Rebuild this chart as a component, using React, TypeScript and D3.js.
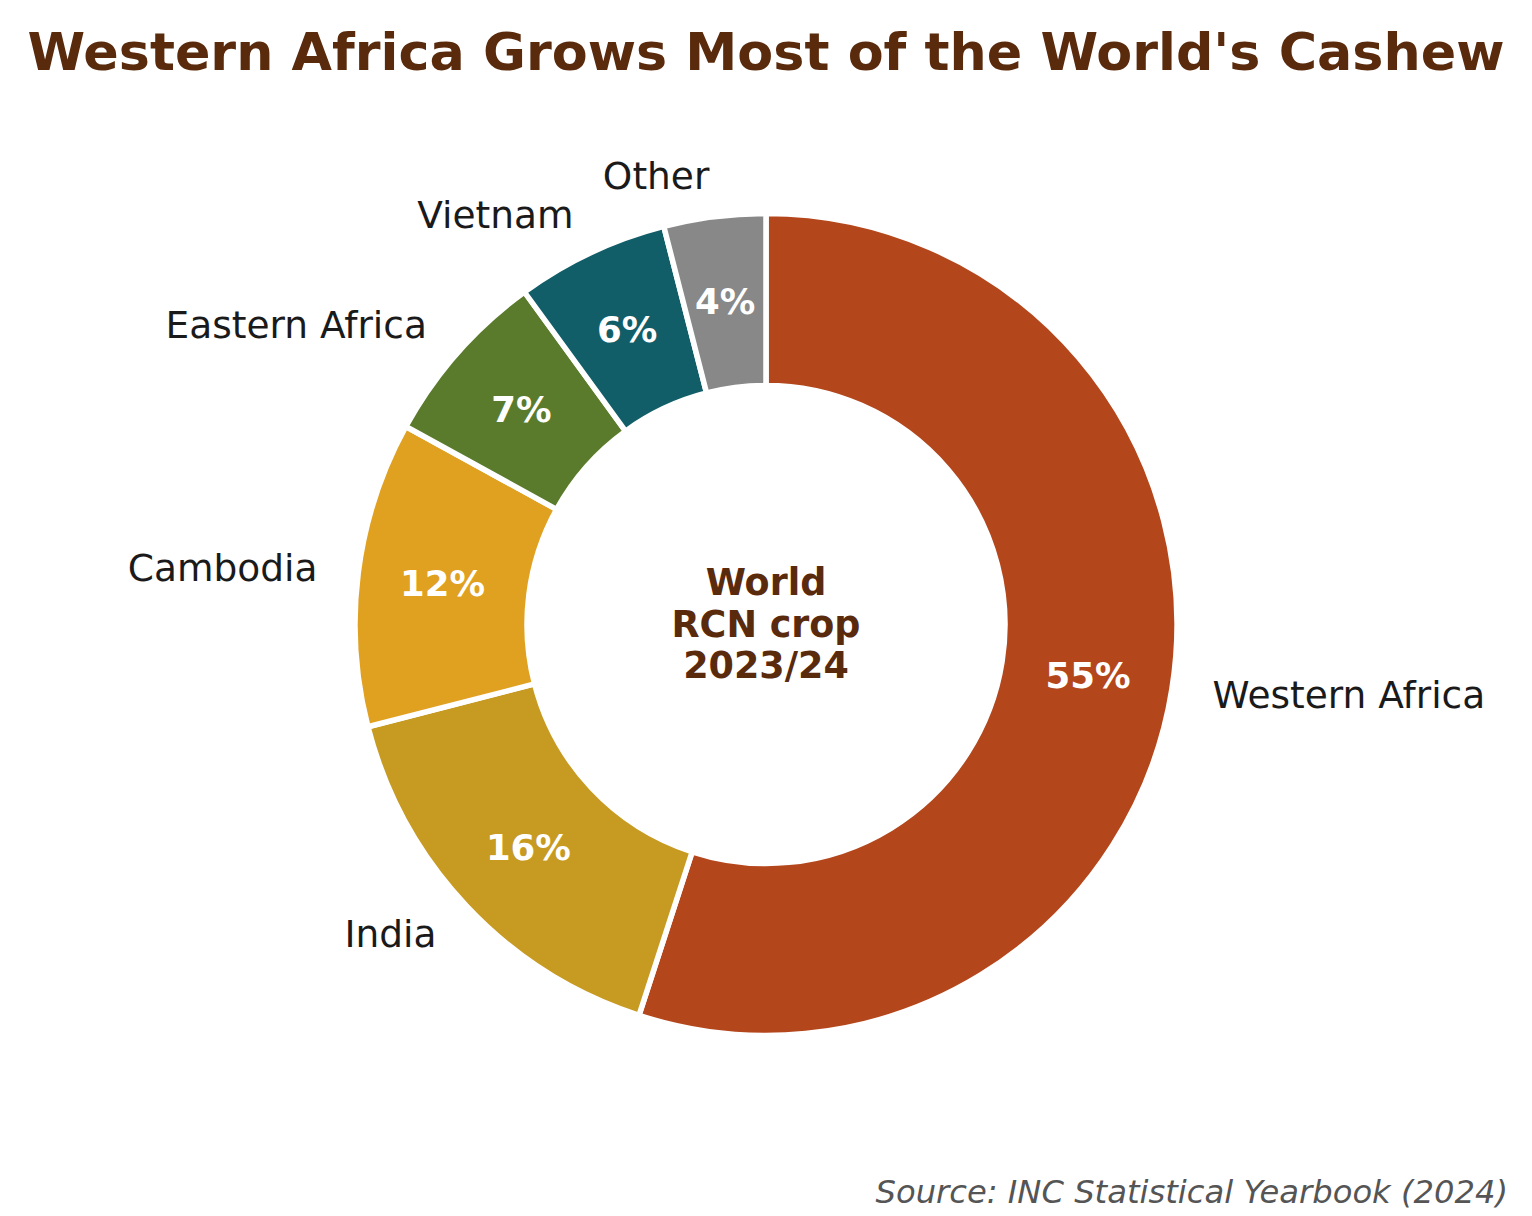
import React from "react";
import * as d3 from "d3";

const categories = ["Western Africa", "India", "Cambodia", "Eastern Africa", "Vietnam", "Other"];
const shares = [55, 16, 12, 7, 6, 4];
const colors = ["#B4461C", "#C79A22", "#E0A020", "#5A7B2B", "#115E69", "#888888"];
const centerLines = ["World", "RCN crop", "2023/24"];
const titleText = "Western Africa Grows Most of the World's Cashew";
const sourceText = "Source: INC Statistical Yearbook (2024)";

const W = 1532;
const H = 1216;
const cx = 766;
const cy = 624.5;
const R = 411;
const R0 = 239;
const font = "DejaVu Sans, sans-serif";

export default function App() {
  const data = categories.map((c, i) => ({ c, v: shares[i], col: colors[i] }));
  const pie = d3
    .pie<any>()
    .sort(null)
    .value((d: any) => d.v)
    .startAngle(0)
    .endAngle(2 * Math.PI);
  const arcs = pie(data);
  const arc = d3.arc<any>().innerRadius(R0).outerRadius(R);
  const total = d3.sum(shares);

  return (
    <svg width={W} height={H} style={{ display: "block", position: "absolute", left: 0, top: 0 }}>
      <rect width={W} height={H} fill="#ffffff" />
      <text
        x={cx}
        y={70}
        textAnchor="middle"
        fontFamily={font}
        fontWeight="bold"
        fontSize={52.3}
        fill="#5A2A0C"
      >
        {titleText}
      </text>
      <g transform={`translate(${cx},${cy})`}>
        {arcs.map((a, i) => (
          <path key={i} d={arc(a) as string} fill={a.data.col} stroke="#ffffff" strokeWidth={5.5} strokeLinejoin="round" />
        ))}
        {arcs.map((a, i) => {
          const m = (a.startAngle + a.endAngle) / 2;
          const x = Math.sin(m);
          const y = -Math.cos(m);
          const lr = 1.1 * R;
          const pr = 326;
          return (
            <g key={"l" + i}>
              <text
                x={x * lr}
                y={y * lr}
                dy="0.34em"
                textAnchor={x >= 0 ? "start" : "end"}
                fontFamily={font}
                fontSize={37.5}
                fill="#1a1a1a"
              >
                {a.data.c}
              </text>
              <text
                x={x * pr}
                y={y * pr}
                dy="0.36em"
                textAnchor="middle"
                fontFamily={font}
                fontWeight="bold"
                fontSize={35.5}
                fill="#ffffff"
              >
                {`${Math.round((a.data.v / total) * 100)}%`}
              </text>
            </g>
          );
        })}
        {centerLines.map((t, i) => (
          <text
            key={"c" + i}
            x={0}
            y={(i - 1) * 41.5 + 12}
            textAnchor="middle"
            fontFamily={font}
            fontWeight="bold"
            fontSize={36.5}
            fill="#5A2A0C"
          >
            {t}
          </text>
        ))}
      </g>
      <text
        x={1508}
        y={1203}
        textAnchor="end"
        fontFamily={font}
        fontStyle="italic"
        fontSize={32.2}
        fill="#555555"
      >
        {sourceText}
      </text>
    </svg>
  );
}
